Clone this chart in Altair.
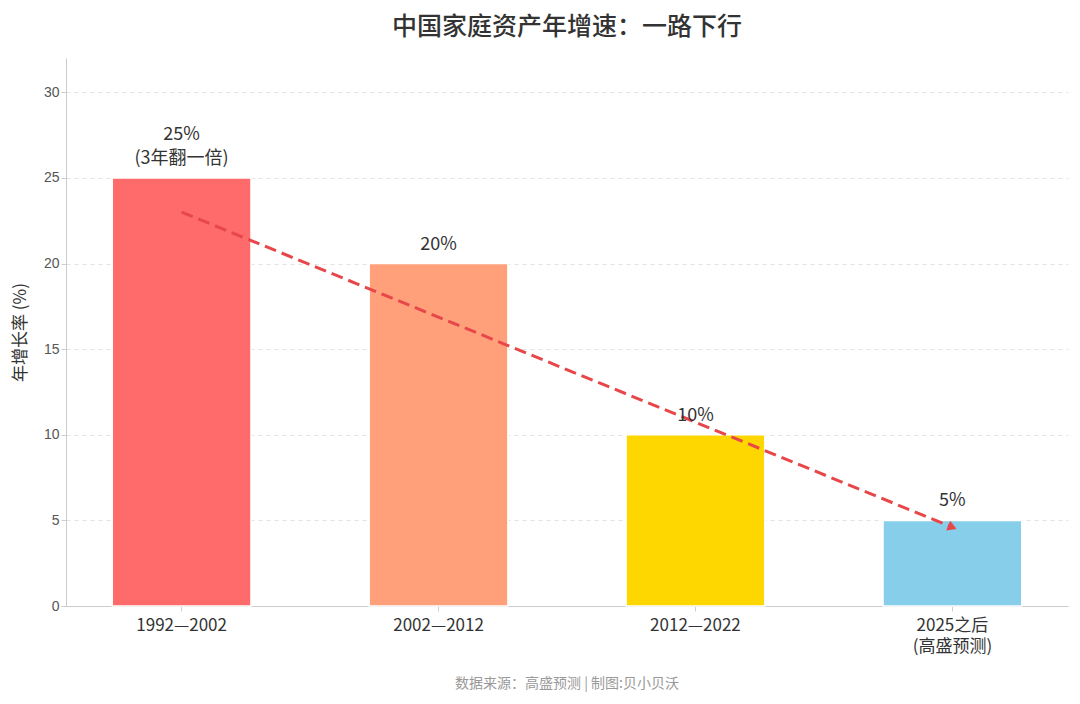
import altair as alt
import pandas as pd

# Data
periods = ["1992—2002", "2002—2012", "2012—2022", "2025之后\n(高盛预测)"]
growth = [25, 20, 10, 5]
labels = ["25%", "20%", "10%", "5%"]
notes = ["(3年翻一倍)", "", "", ""]
colors = ["#ff6b6b", "#ffa07a", "#ffd700", "#87ceeb"]

# trend arrow start / end (in data units)
arrow_x = [periods[0], periods[3]]
arrow_y = [23, 4.6]

FONT = "Noto Sans CJK SC"

df = pd.DataFrame({"period": periods, "growth": growth, "label": labels, "note": notes})
df["top"] = [a + ("\n" + b if b else "") for a, b in zip(labels, notes)]
df["nlines"] = [2 if b else 1 for b in notes]
arrow = pd.DataFrame({"period": arrow_x, "growth": arrow_y})

x = alt.X("period:N", sort=periods, title=None,
          scale=alt.Scale(paddingInner=0.46, paddingOuter=0.18),
          axis=alt.Axis(labelAngle=0, labelFontSize=17, labelColor="#333",
                        labelExpr="split(datum.label, '\\n')", labelPadding=6,
                        ticks=True, tickColor="#ccc", domainColor="#ccc",
                        grid=False, labelFont=FONT, labelLineHeight=21))
y = alt.Y("growth:Q", title="年增长率 (%)",
          scale=alt.Scale(domain=[0, 32], nice=False),
          axis=alt.Axis(values=[0, 5, 10, 15, 20, 25, 30], labelFontSize=14,
                        labelColor="#555", titleFontSize=17, titleColor="#333",
                        titleFontWeight="normal", titlePadding=14, titleFont=FONT,
                        grid=True, gridDash=[4, 4], gridColor="#e3e3e3",
                        domainColor="#ccc", tickColor="#ccc"))

bars = alt.Chart(df).mark_bar(stroke="white", strokeWidth=1.5).encode(
    x=x, y=y,
    color=alt.Color("period:N", sort=periods,
                    scale=alt.Scale(domain=periods, range=colors), legend=None),
)

base_text = alt.Chart(df).encode(x=alt.X("period:N", sort=periods), y="growth:Q")
text_main = base_text.transform_filter("datum.nlines == 1").mark_text(
    baseline="bottom", dy=-10, fontSize=18, color="#333", font=FONT).encode(text="label:N")
text_two1 = base_text.transform_filter("datum.nlines == 2").mark_text(
    baseline="bottom", dy=-34, fontSize=18, color="#333", font=FONT).encode(text="label:N")
text_two2 = base_text.transform_filter("datum.nlines == 2").mark_text(
    baseline="bottom", dy=-10, fontSize=18, color="#333", font=FONT).encode(text="note:N")

line = alt.Chart(arrow).mark_line(color="#e8474a", strokeWidth=3,
                                  strokeDash=[12, 6]).encode(
    x=alt.X("period:N", sort=periods), y="growth:Q")

head = alt.Chart(arrow.iloc[[1]]).mark_point(
    shape="triangle-right", filled=True, size=110, angle=22,
    color="#e8474a", opacity=1).encode(
    x=alt.X("period:N", sort=periods), y="growth:Q")

source = alt.Chart(pd.DataFrame({"t": ["数据来源：高盛预测 | 制图:贝小贝沃"]})).mark_text(
    fontSize=14, color="#999", font=FONT).encode(
    x=alt.value(501), y=alt.value(626), text="t:N")

chart = alt.layer(bars, line, head, text_main, text_two1, text_two2, source).properties(
    width=1002, height=548,
    title=alt.TitleParams("中国家庭资产年增速：一路下行", fontSize=25,
                          font=FONT, color="#333", fontWeight=500,
                          anchor="middle", offset=18),
    autosize=alt.AutoSizeParams(type="none"),
    padding={"left": 58, "top": 50, "right": 4, "bottom": 100},
).configure_view(stroke=None)

chart.save("out.html", embed_options={"renderer": "svg", "actions": False})
